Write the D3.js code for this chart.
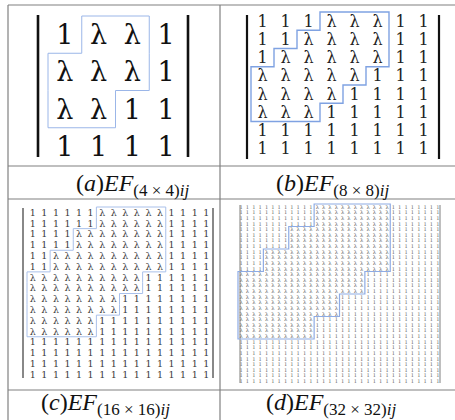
<!DOCTYPE html>
<html lang="en">
<head>
  <meta charset="UTF-8">
  <title>EF matrices</title>
  <style>
    body { margin: 0; background: #fff; }
    .grid { stroke: #808080; stroke-width: 1.2; }
    .cap { font-family: 'Liberation Serif', serif; fill: #111; }
  </style>
</head>
<body>
  <svg width="455" height="420"></svg>
  <script src="https://cdn.jsdelivr.net/npm/d3@7/dist/d3.min.js"></script>
  <script>
    // matrix rows, one string per row
    var matA = ['1λλ1', 'λλλ1', 'λλ11', '1111']
    var matB = [
      '111λλλ11',
      '11λλλλ11',
      '1λλλλλ11',
      'λλλλλ111',
      'λλλλ1111',
      'λλλ11111',
      '11111111',
      '11111111'
    ]
    var matC = [
      '111111λλλλλλ1111',
      '111111λλλλλλ1111',
      '1111λλλλλλλλ1111',
      '1111λλλλλλλλ1111',
      '11λλλλλλλλλλ1111',
      '11λλλλλλλλλλ1111',
      'λλλλλλλλλλ111111',
      'λλλλλλλλλλ111111',
      'λλλλλλλλ11111111',
      'λλλλλλλλ11111111',
      'λλλλλλ1111111111',
      'λλλλλλ1111111111',
      '1111111111111111',
      '1111111111111111',
      '1111111111111111',
      '1111111111111111'
    ]
    var matD = [
      '111111111111λλλλλλλλλλλλ11111111',
      '111111111111λλλλλλλλλλλλ11111111',
      '111111111111λλλλλλλλλλλλ11111111',
      '111111111111λλλλλλλλλλλλ11111111',
      '11111111λλλλλλλλλλλλλλλλ11111111',
      '11111111λλλλλλλλλλλλλλλλ11111111',
      '11111111λλλλλλλλλλλλλλλλ11111111',
      '11111111λλλλλλλλλλλλλλλλ11111111',
      '1111λλλλλλλλλλλλλλλλλλλλ11111111',
      '1111λλλλλλλλλλλλλλλλλλλλ11111111',
      '1111λλλλλλλλλλλλλλλλλλλλ11111111',
      '1111λλλλλλλλλλλλλλλλλλλλ11111111',
      'λλλλλλλλλλλλλλλλλλλλ111111111111',
      'λλλλλλλλλλλλλλλλλλλλ111111111111',
      'λλλλλλλλλλλλλλλλλλλλ111111111111',
      'λλλλλλλλλλλλλλλλλλλλ111111111111',
      'λλλλλλλλλλλλλλλλ1111111111111111',
      'λλλλλλλλλλλλλλλλ1111111111111111',
      'λλλλλλλλλλλλλλλλ1111111111111111',
      'λλλλλλλλλλλλλλλλ1111111111111111',
      'λλλλλλλλλλλλ11111111111111111111',
      'λλλλλλλλλλλλ11111111111111111111',
      'λλλλλλλλλλλλ11111111111111111111',
      'λλλλλλλλλλλλ11111111111111111111',
      '11111111111111111111111111111111',
      '11111111111111111111111111111111',
      '11111111111111111111111111111111',
      '11111111111111111111111111111111',
      '11111111111111111111111111111111',
      '11111111111111111111111111111111',
      '11111111111111111111111111111111',
      '11111111111111111111111111111111'
    ]
    var capTags = ['a', 'b', 'c', 'd']
    var capSizes = ['4×4', '8×8', '16×16', '32×32']

    var svg = d3.select('svg')

    var panels = [
      { m: matA, x: [48, 183], y: [16, 165], fs: 27, bars: [38, 188], by: [15, 157], bw: 2.6, bc: '#111', tc: '#111', oc: '#9bb6e8', ow: 1, cap: [76, 191] },
      { m: matB, x: [251, 435], y: [12, 158], fs: 16, bars: [247, 439], by: [15, 159], bw: 2.2, bc: '#111', tc: '#222', oc: '#7fa2e2', ow: 1.4, cap: [276, 191] },
      { m: matC, x: [27, 212], y: [207, 380], fs: 9.5, bars: [23, 213], by: [208, 378], bw: 2, bc: '#888', tc: '#3a3a3a', oc: '#a9c0ea', ow: 1, cap: [41, 410] },
      { m: matD, x: [238, 441], y: [204, 384], fs: 5.2, bars: [240, 440], by: [205, 383], bw: 1.5, bc: '#aaa', tc: '#666', oc: '#8eabe4', ow: 1.2, cap: [266, 410] }
    ]

    // table lines
    var hLines = [5, 166, 199, 390]
    svg.selectAll('.h').data(hLines).enter().append('line')
      .attr('class', 'grid')
      .attr('x1', 8).attr('x2', 455)
      .attr('y1', function(d) { return d }).attr('y2', function(d) { return d })
    svg.selectAll('.v').data([8, 220]).enter().append('line')
      .attr('class', 'grid')
      .attr('x1', function(d) { return d }).attr('x2', function(d) { return d })
      .attr('y1', 5).attr('y2', 420)

    panels.forEach(function(p, k) {
      var n = p.m.length
      var idx = d3.range(n)
      var x = d3.scaleBand().domain(idx).range(p.x)
      var y = d3.scaleBand().domain(idx).range(p.y)
      var g = svg.append('g')

      // determinant bars
      g.selectAll('.bar').data(p.bars).enter().append('line')
        .attr('x1', function(d) { return d }).attr('x2', function(d) { return d })
        .attr('y1', p.by[0]).attr('y2', p.by[1])
        .attr('stroke', p.bc).attr('stroke-width', p.bw)

      // cells
      var cells = []
      p.m.forEach(function(row, r) {
        Array.from(row).forEach(function(ch, c) {
          cells.push({ r: r, c: c, v: ch })
        })
      })
      g.selectAll('.cell').data(cells).enter().append('text')
        .attr('x', function(d) { return x(d.c) + x.bandwidth() / 2 })
        .attr('y', function(d) { return y(d.r) + y.bandwidth() / 2 + p.fs * 0.35 })
        .attr('text-anchor', 'middle')
        .attr('font-family', 'DejaVu Serif, serif')
        .attr('font-size', p.fs)
        .attr('fill', p.tc)
        .text(function(d) { return d.v })

      // outline around the lambda region
      var spans = []
      p.m.forEach(function(row, r) {
        var s = row.indexOf('λ')
        if (s >= 0) spans.push({ r: r, s: s, e: row.lastIndexOf('λ') + 1 })
      })
      var xe = function(c) { return c >= n ? p.x[1] : x(c) }
      var ye = function(r) { return r >= n ? p.y[1] : y(r) }
      var pts = []
      spans.forEach(function(d) {
        pts.push([xe(d.e), ye(d.r)], [xe(d.e), ye(d.r + 1)])
      })
      spans.slice().reverse().forEach(function(d) {
        pts.push([xe(d.s), ye(d.r + 1)], [xe(d.s), ye(d.r)])
      })
      g.append('path')
        .attr('d', d3.line()(pts) + 'Z')
        .attr('fill', 'none')
        .attr('stroke', p.oc)
        .attr('stroke-width', p.ow)

      // caption
      var t = svg.append('text').attr('class', 'cap')
        .attr('x', p.cap[0]).attr('y', p.cap[1])
        .attr('font-size', 24)
      t.append('tspan').text('(')
      t.append('tspan').attr('font-style', 'italic').text(capTags[k])
      t.append('tspan').text(')')
      t.append('tspan').attr('font-style', 'italic').text('EF')
      t.append('tspan').attr('font-size', 17).attr('dy', 5).text('(' + capSizes[k].replace('×', ' × ') + ')')
      t.append('tspan').attr('font-size', 17).attr('font-style', 'italic').text('ij')
    })
  </script>
</body>
</html>
